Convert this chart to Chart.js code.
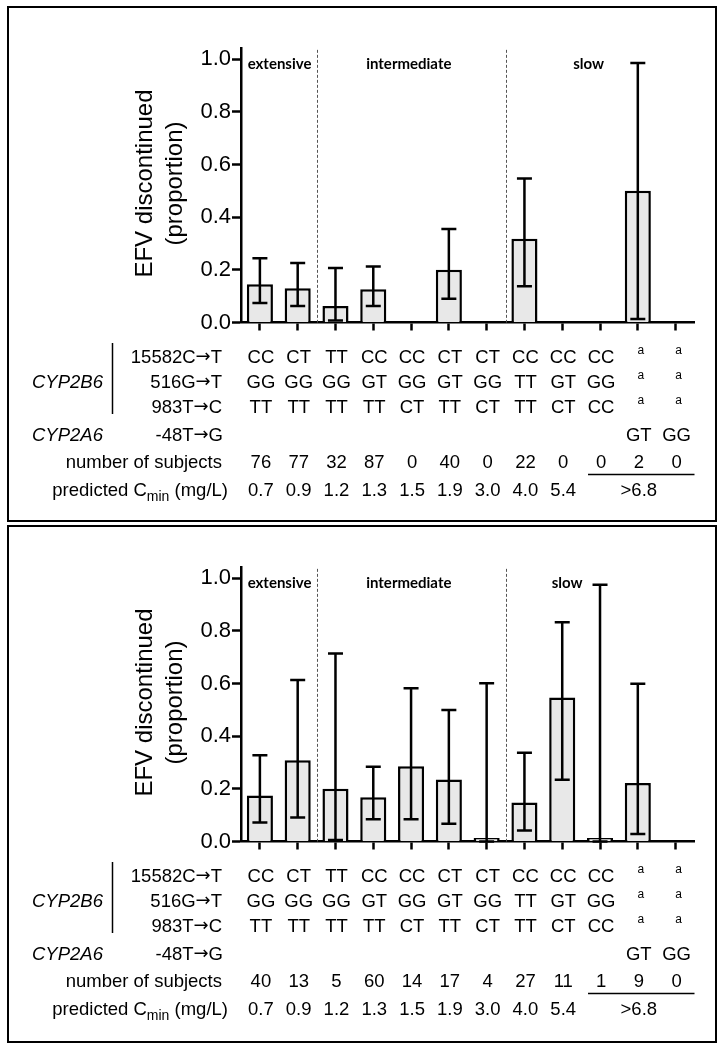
<!DOCTYPE html>
<html>
<head>
<meta charset="utf-8">
<script src="https://cdn.jsdelivr.net/npm/chart.js@4.4.0/dist/chart.umd.min.js"></script>
<style>
html,body{margin:0;padding:0;background:#fff;}
body{width:723px;height:1050px;position:relative;overflow:hidden;}
canvas{position:absolute;left:0;}
.frame{position:absolute;border:2px solid #000;box-sizing:border-box;pointer-events:none;}
</style>
</head>
<body>
<canvas id="c1" width="723" height="520" style="top:0px;width:723px;height:520px"></canvas>
<canvas id="c2" width="723" height="520" style="top:519px;width:723px;height:520px"></canvas>
<div class="frame" style="left:7px;top:6px;width:710px;height:516px"></div>
<div class="frame" style="left:7px;top:525px;width:710px;height:518px"></div>
<script>
// ---------- data ----------
const categories = ['G1','G2','G3','G4','G5','G6','G7','G8','G9','G10','G11','G12'];
const snp15582 = ['CC','CT','TT','CC','CC','CT','CT','CC','CC','CC','a','a'];
const snp516   = ['GG','GG','GG','GT','GG','GT','GG','TT','GT','GG','a','a'];
const snp983   = ['TT','TT','TT','TT','CT','TT','CT','TT','CT','CC','a','a'];
const snp48    = ['','','','','','','','','','','GT','GG'];
const cminLabels = ['0.7','0.9','1.2','1.3','1.5','1.9','3.0','4.0','5.4'];
const cminHigh = '>6.8';
const yTicks = [0, 0.2, 0.4, 0.6, 0.8, 1.0];
const groupNames = ['extensive','intermediate','slow'];

const subjectsTop = [76,77,32,87,0,40,0,22,0,0,2,0];
const propTop  = [0.145,0.130,0.0625,0.126,null,0.200,null,0.318,null,null,0.500,null];
const lowTop   = [0.074,0.063,0.008,0.063,null,0.090,null,0.138,null,null,0.013,null];
const highTop  = [0.244,0.226,0.207,0.213,null,0.355,null,0.547,null,null,0.985,null];

const subjectsBottom = [40,13,5,60,14,17,4,27,11,1,9,0];
const propBottom = [0.175,0.308,0.200,0.168,0.286,0.235,0,0.148,0.547,0,0.222,null];
const lowBottom  = [0.072,0.091,0.006,0.084,0.084,0.067,0,0.042,0.234,0,0.028,null];
const highBottom = [0.327,0.613,0.714,0.284,0.582,0.499,0.601,0.337,0.832,0.975,0.599,null];

// ---------- plugins ----------
const FONT = '"Liberation Sans", Arial, sans-serif';
const ARROWFONT = '"DejaVu Sans", sans-serif';

const errorBars = {
  id: 'errorBars',
  afterDatasetsDraw(chart, args, opts) {
    const {ctx} = chart; const x = chart.scales.x, y = chart.scales.y;
    ctx.save(); ctx.strokeStyle = '#000'; ctx.lineWidth = 2.5; ctx.lineCap = 'butt';
    opts.low.forEach((lo, i) => {
      const hi = opts.high[i];
      if (lo == null || hi == null) return;
      const cx = x.getPixelForValue(i), y1 = y.getPixelForValue(lo), y2 = y.getPixelForValue(hi);
      ctx.beginPath();
      ctx.moveTo(cx, y1); ctx.lineTo(cx, y2);
      ctx.moveTo(cx - 7.5, y1); ctx.lineTo(cx + 7.5, y1);
      ctx.moveTo(cx - 7.5, y2); ctx.lineTo(cx + 7.5, y2);
      ctx.stroke();
    });
    ctx.restore();
  }
};

// draw a list of [text, font, dy] pieces right-aligned ending at x
function drawPiecesRight(ctx, pieces, x, y) {
  let right = x;
  ctx.textAlign = 'right';
  for (let k = pieces.length - 1; k >= 0; k--) {
    const [t, f, dy] = pieces[k];
    ctx.font = f;
    ctx.fillText(t, right, y + (dy || 0));
    right -= ctx.measureText(t).width;
  }
}

const annotations = {
  id: 'annotations',
  afterDraw(chart, args, opts) {
    const {ctx, chartArea} = chart; const x = chart.scales.x, y = chart.scales.y;
    const px = i => x.getPixelForValue(i);
    ctx.save();
    // dashed group separators
    ctx.strokeStyle = '#555'; ctx.lineWidth = 1; ctx.setLineDash([3, 2]);
    [1, 6].forEach(i => {
      const xx = Math.round((px(i) + px(i + 1)) / 2) + 0.5;
      ctx.beginPath(); ctx.moveTo(xx, y.getPixelForValue(1.035)); ctx.lineTo(xx, chartArea.bottom); ctx.stroke();
    });
    ctx.setLineDash([]);
    // group labels
    ctx.fillStyle = '#000';
    ctx.font = 'bold 15px Lato, "Open Sans", sans-serif';
    ctx.textAlign = 'center'; ctx.textBaseline = 'middle';
    groupNames.forEach((g, k) => {
      const pos = opts.groupPos[k];
      const xx = px(0) + (px(1) - px(0)) * pos;
      ctx.fillText(g, xx, 64);
    });
    // y axis title
    ctx.font = '24px ' + FONT;
    ctx.textBaseline = 'alphabetic';
    ctx.save(); ctx.translate(152, 183.5); ctx.rotate(-Math.PI / 2);
    ctx.fillText('EFV discontinued', 0, 0); ctx.restore();
    ctx.save(); ctx.translate(181.5, 183.5); ctx.rotate(-Math.PI / 2);
    ctx.fillText('(proportion)', 0, 0); ctx.restore();

    // table
    const rows = [363, 388, 412.5, 440.5, 468, 496];
    const LX = 222;
    const F = '18.5px ' + FONT, A = '18px ' + ARROWFONT;
    drawPiecesRight(ctx, [['15582C', F], ['\u2192', A, -1], ['T', F]], LX, rows[0]);
    drawPiecesRight(ctx, [['516G', F], ['\u2192', A, -1], ['T', F]], LX, rows[1]);
    drawPiecesRight(ctx, [['983T', F], ['\u2192', A, -1], ['C', F]], LX, rows[2]);
    drawPiecesRight(ctx, [['-48T', F], ['\u2192', A, -1], ['G', F]], LX + 1, rows[3]);
    drawPiecesRight(ctx, [['number of subjects', F]], LX, rows[4]);
    drawPiecesRight(ctx, [['predicted C', F], ['min', '14px ' + FONT, 5], [' (mg/L)', F]], LX + 6, rows[5]);
    // gene names
    ctx.textAlign = 'left';
    ctx.font = 'italic 18.5px ' + FONT;
    ctx.fillText('CYP2B6', 32, rows[1]);
    ctx.fillText('CYP2A6', 32, rows[3]);
    // bracket line
    ctx.strokeStyle = '#000'; ctx.lineWidth = 1.5;
    ctx.beginPath(); ctx.moveTo(112.5, 343); ctx.lineTo(112.5, 414); ctx.stroke();
    // genotype cells
    ctx.textAlign = 'center';
    [snp15582, snp516, snp983, snp48].forEach((arr, r) => {
      arr.forEach((v, i) => {
        if (!v) return;
        if (v === 'a') {
          ctx.font = '12px ' + FONT;
          ctx.fillText('a', px(i) + 3, rows[r] - 9);
        } else {
          ctx.font = '18.5px ' + FONT;
          ctx.fillText(v, px(i) + 1, rows[r]);
        }
      });
    });
    ctx.font = '18.5px ' + FONT;
    opts.subjects.forEach((n, i) => ctx.fillText(String(n), px(i) + 1, rows[4]));
    cminLabels.forEach((c, i) => ctx.fillText(c, px(i) + 1, rows[5]));
    ctx.fillText(cminHigh, px(10) + 1, rows[5]);
    ctx.lineWidth = 1.5;
    ctx.beginPath(); ctx.moveTo(px(9) - 12, 474.5); ctx.lineTo(chartArea.right, 474.5); ctx.stroke();
    ctx.restore();
  }
};

function makeChart(id, prop, low, high, subjects, groupPos) {
  return new Chart(document.getElementById(id), {
    type: 'bar',
    data: {
      labels: categories,
      datasets: [{
        data: prop,
        backgroundColor: '#e8e8e8',
        borderColor: '#000',
        borderWidth: 2.5,
        barPercentage: 0.69,
        categoryPercentage: 1.0,
        minBarLength: 3.5
      }]
    },
    options: {
      responsive: false,
      maintainAspectRatio: false,
      devicePixelRatio: 1,
      animation: false,
      events: [],
      layout: { padding: { left: 0, top: 48, right: 28.5, bottom: 0 } },
      plugins: {
        legend: { display: false },
        tooltip: { enabled: false },
        errorBars: { low: low, high: high },
        annotations: { subjects: subjects, groupPos: groupPos }
      },
      scales: {
        x: {
          type: 'category',
          offset: true,
          z: 1,
          afterFit: s => { s.height = 197.5; },
          grid: { offset: false, drawOnChartArea: false, drawTicks: true, tickLength: 8, tickWidth: 2.5, tickColor: '#000' },
          border: { display: true, color: '#000', width: 2.5 },
          ticks: { display: false }
        },
        y: {
          min: 0, max: 1.042,
          z: 1,
          afterFit: s => { s.width = 241; },
          afterBuildTicks: s => { s.ticks = yTicks.map(v => ({ value: v })); },
          grid: { drawOnChartArea: false, drawTicks: true, tickLength: 9, tickWidth: 2.5, tickColor: '#000' },
          border: { display: true, color: '#000', width: 2.5 },
          ticks: {
            color: '#000', padding: 1,
            font: { family: FONT, size: 22 },
            callback: v => Number(v).toFixed(1)
          }
        }
      }
    },
    plugins: [errorBars, annotations]
  });
}

makeChart('c1', propTop, lowTop, highTop, subjectsTop, [0.52, 3.94, 8.7]);
makeChart('c2', propBottom, lowBottom, highBottom, subjectsBottom, [0.52, 3.94, 8.13]);
</script>
</body>
</html>
